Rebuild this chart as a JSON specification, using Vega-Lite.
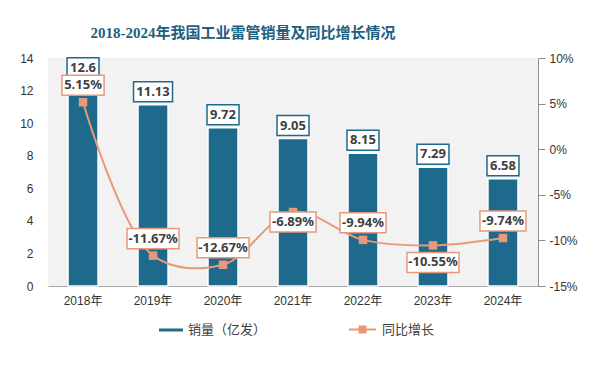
{
  "$schema": "https://vega.github.io/schema/vega-lite/v6.json",
  "width": 490,
  "height": 228,
  "autosize": {"type": "none"},
  "padding": {"left": 48, "top": 58, "right": 56, "bottom": 80},
  "background": "white",
  "config": {
    "view": {"fill": "#f2f2f2", "stroke": null},
    "font": "Liberation Sans, Noto Sans CJK SC"
  },
  "title": {
    "text": "2018-2024年我国工业雷管销量及同比增长情况",
    "font": "Liberation Serif, Noto Sans CJK SC",
    "fontSize": 15,
    "fontWeight": "bold",
    "color": "#1f5f80",
    "anchor": "middle",
    "dx": -50,
    "offset": 11
  },
  "data": {
    "values": [
      {"year": "2018年", "sales": 12.6, "yoy": 5.15, "pctLabel": "5.15%"},
      {"year": "2019年", "sales": 11.13, "yoy": -11.67, "pctLabel": "-11.67%"},
      {"year": "2020年", "sales": 9.72, "yoy": -12.67, "pctLabel": "-12.67%"},
      {"year": "2021年", "sales": 9.05, "yoy": -6.89, "pctLabel": "-6.89%"},
      {"year": "2022年", "sales": 8.15, "yoy": -9.94, "pctLabel": "-9.94%"},
      {"year": "2023年", "sales": 7.29, "yoy": -10.55, "pctLabel": "-10.55%"},
      {"year": "2024年", "sales": 6.58, "yoy": -9.74, "pctLabel": "-9.74%"}
    ]
  },
  "encoding": {
    "x": {
      "field": "year",
      "type": "ordinal",
      "sort": null,
      "scale": {"paddingInner": 0.571, "paddingOuter": 0.286},
      "axis": {
        "title": null,
        "labelAngle": 0,
        "domainColor": "#a6a6a6",
        "ticks": false,
        "labelPadding": 9,
        "labelFontSize": 12,
        "labelColor": "#333333",
        "labelFont": "Liberation Sans, Noto Sans CJK SC"
      }
    }
  },
  "layer": [
    {
      "encoding": {
        "y": {
          "field": "sales",
          "type": "quantitative",
          "scale": {"domain": [0, 14]},
          "axis": {
            "orient": "left",
            "title": null,
            "domain": false,
            "ticks": false,
            "grid": false,
            "labelPadding": 15,
            "labelFontSize": 12,
            "labelColor": "#333333",
            "values": [0, 2, 4, 6, 8, 10, 12, 14]
          }
        }
      },
      "layer": [
        {
          "mark": {"type": "bar", "stroke": "white", "strokeWidth": 1.5},
          "encoding": {
            "fill": {
              "datum": "销量（亿发）",
              "scale": {"range": ["#1d6a8d"]},
              "legend": {
                "orient": "none",
                "legendX": 111,
                "legendY": 260,
                "title": null,
                "padding": 0,
                "labelFontSize": 13,
                "labelColor": "#404040",
                "labelFont": "Noto Sans CJK SC",
                "labelOffset": 5,
                "symbolSize": 576,
                "symbolStrokeWidth": 0,
                "symbolType": "M-1,-0.125L1,-0.125L1,0.125L-1,0.125Z"
              }
            }
          }
        },
        {
          "mark": {"type": "point", "filled": true, "fill": "white", "stroke": "#1d6a8d", "strokeWidth": 1.5, "size": 1521, "opacity": 1, "fillOpacity": 1, "strokeOpacity": 1, "yOffset": -13},
          "encoding": {
            "shape": {
              "condition": {"test": "length(toString(datum.sales)) >= 5", "value": "M-1,-0.513L1,-0.513L1,0.513L-1,0.513Z"},
              "value": "M-0.82,-0.513L0.82,-0.513L0.82,0.513L-0.82,0.513Z"
            }
          }
        },
        {
          "mark": {"type": "text", "fontWeight": "bold", "fontSize": 13, "font": "Noto Sans", "color": "#404040", "baseline": "middle", "yOffset": -13},
          "encoding": {
            "text": {"field": "sales", "type": "quantitative"}
          }
        }
      ]
    },
    {
      "encoding": {
        "y": {
          "field": "yoy",
          "type": "quantitative",
          "scale": {"domain": [-15, 10]},
          "axis": {
            "orient": "right",
            "title": null,
            "grid": false,
            "values": [-15, -10, -5, 0, 5, 10],
            "labelExpr": "datum.value + '%'",
            "domainColor": "#8c8c8c",
            "tickColor": "#8c8c8c",
            "tickSize": 7,
            "labelPadding": 4,
            "labelFontSize": 12,
            "labelColor": "#333333"
          }
        }
      },
      "layer": [
        {
          "mark": {"type": "line", "interpolate": "catmull-rom", "strokeWidth": 2},
          "encoding": {
            "stroke": {
              "datum": "同比增长",
              "scale": {"range": ["#e8997a"]},
              "legend": {
                "orient": "none",
                "legendX": 300,
                "legendY": 257,
                "title": null,
                "padding": 0,
                "labelFontSize": 13,
                "labelColor": "#404040",
                "labelFont": "Noto Sans CJK SC",
                "labelOffset": 5,
                "symbolSize": 729,
                "symbolStrokeWidth": 2,
                "symbolFillColor": "#e8997a",
                "symbolType": "M-1,0L1,0M-0.22,-0.22L0.22,-0.22L0.22,0.22L-0.22,0.22Z"
              }
            }
          }
        },
        {
          "mark": {"type": "point", "shape": "square", "filled": true, "size": 72, "color": "#e8997a", "opacity": 1}
        },
        {
          "transform": [{"filter": {"not": {"field": "year", "oneOf": ["2021年", "2023年"]}}}],
          "layer": [
            {
              "mark": {"type": "point", "filled": true, "fill": "white", "stroke": "#e8997a", "strokeWidth": 1.5, "size": 2704, "opacity": 1, "fillOpacity": 1, "strokeOpacity": 1, "yOffset": -17},
              "encoding": {
                "shape": {
                  "condition": [
                    {"test": "length(datum.pctLabel) >= 7", "value": "M-1,-0.385L1,-0.385L1,0.385L-1,0.385Z"},
                    {"test": "length(datum.pctLabel) == 6", "value": "M-0.885,-0.385L0.885,-0.385L0.885,0.385L-0.885,0.385Z"}
                  ],
                  "value": "M-0.81,-0.385L0.81,-0.385L0.81,0.385L-0.81,0.385Z"
                }
              }
            },
            {
              "mark": {"type": "text", "fontWeight": "bold", "fontSize": 13, "font": "Noto Sans", "color": "#404040", "baseline": "middle", "yOffset": -17},
              "encoding": {"text": {"field": "pctLabel"}}
            }
          ]
        },
        {
          "transform": [{"filter": {"field": "year", "equal": "2021年"}}],
          "layer": [
            {
              "mark": {"type": "point", "filled": true, "fill": "white", "stroke": "#e8997a", "strokeWidth": 1.5, "size": 2704, "opacity": 1, "fillOpacity": 1, "strokeOpacity": 1, "yOffset": 10, "shape": "M-0.885,-0.385L0.885,-0.385L0.885,0.385L-0.885,0.385Z"}
            },
            {
              "mark": {"type": "text", "fontWeight": "bold", "fontSize": 13, "font": "Noto Sans", "color": "#404040", "baseline": "middle", "yOffset": 10},
              "encoding": {"text": {"field": "pctLabel"}}
            }
          ]
        },
        {
          "transform": [{"filter": {"field": "year", "equal": "2023年"}}],
          "layer": [
            {
              "mark": {"type": "point", "filled": true, "fill": "white", "stroke": "#e8997a", "strokeWidth": 1.5, "size": 2704, "opacity": 1, "fillOpacity": 1, "strokeOpacity": 1, "yOffset": 17, "shape": "M-1,-0.385L1,-0.385L1,0.385L-1,0.385Z"}
            },
            {
              "mark": {"type": "text", "fontWeight": "bold", "fontSize": 13, "font": "Noto Sans", "color": "#404040", "baseline": "middle", "yOffset": 17},
              "encoding": {"text": {"field": "pctLabel"}}
            }
          ]
        }
      ]
    }
  ],
  "resolve": {"scale": {"y": "independent"}}
}
